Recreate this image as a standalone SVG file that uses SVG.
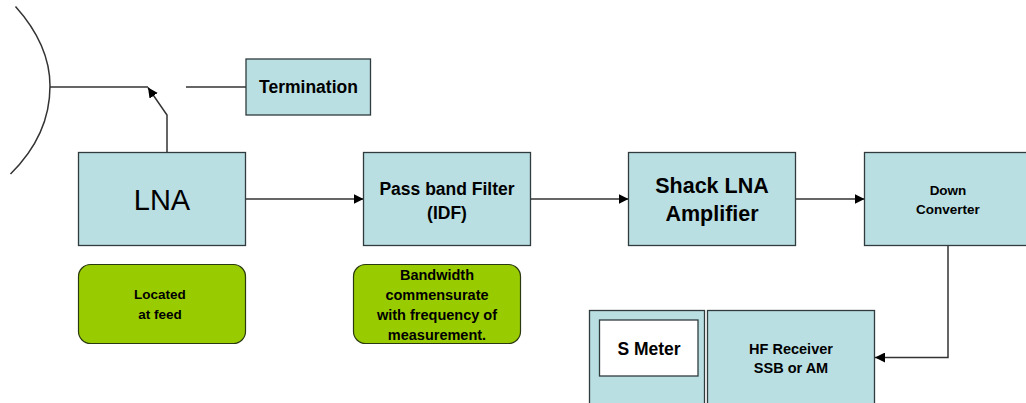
<svg xmlns="http://www.w3.org/2000/svg" width="1026" height="403" viewBox="0 0 1026 403">
<style>
.box{fill:#b9dfe3;stroke:#2f3b3d;stroke-width:1.3}
.note{fill:#99cc00;stroke:#2a3a10;stroke-width:1.2}
.white{fill:#fff;stroke:#2f3b3d;stroke-width:1.3}
.c{fill:none;stroke:#333;stroke-width:1.5}
text{font-family:"Liberation Sans",Arial,sans-serif;font-weight:bold;fill:#000;text-anchor:middle}
</style>
<defs>
<marker id="arrow" markerUnits="userSpaceOnUse" markerWidth="11" markerHeight="10" refX="10" refY="5" orient="auto">
<path d="M0 0L10 5L0 10Z" fill="#000"/>
</marker>
</defs>
<g id="connectors">
<path class="c" d="M15.500 6.500Q50 45 50 86Q50 135 10.500 174"/>
<path class="c" d="M50 87H148"/>
<path class="c" d="M186 87H246"/>
<path class="c" d="M167 152V115L148 87.500" marker-end="url(#arrow)"/>
<path class="c" d="M246 199H363.500" marker-end="url(#arrow)"/>
<path class="c" d="M531 199H628.500" marker-end="url(#arrow)"/>
<path class="c" d="M796 199H864.500" marker-end="url(#arrow)"/>
<path class="c" d="M948 245V357.500H875" marker-end="url(#arrow)"/>
</g>
<g id="termination"><rect class="box" x="246" y="59" width="124.500" height="56"/><text x="308.500" y="93" font-size="17.500">Termination</text></g>
<g id="lna"><rect class="box" x="78.500" y="152.500" width="167" height="93"/><text x="162" y="210" font-size="29" style="font-weight:normal">LNA</text></g>
<g id="filter"><rect class="box" x="363.500" y="152.500" width="167" height="93"/><text x="447" y="195" font-size="17.500">Pass band Filter</text><text x="447" y="219" font-size="17.500">(IDF)</text></g>
<g id="shack"><rect class="box" x="628.500" y="152.500" width="167" height="93"/><text x="712" y="193" font-size="21.500">Shack LNA</text><text x="712" y="221" font-size="21.500">Amplifier</text></g>
<g id="down"><rect class="box" x="864.500" y="152.500" width="167" height="93"/><text x="948" y="195" font-size="13.500">Down</text><text x="948" y="214" font-size="13.500">Converter</text></g>
<g id="located"><rect class="note" x="78.500" y="264.500" width="167" height="79" rx="12"/><text x="160" y="299" font-size="13.500">Located</text><text x="160" y="319" font-size="13.500">at feed</text></g>
<g id="bandwidth"><rect class="note" x="353.500" y="264.500" width="167" height="79" rx="12"/><text x="437" y="280" font-size="14.500">Bandwidth</text><text x="437" y="300" font-size="14.500">commensurate</text><text x="437" y="320" font-size="14.500">with frequency of</text><text x="437" y="340" font-size="14.500">measurement.</text></g>
<g id="meter"><rect class="box" x="589.500" y="310.500" width="115" height="110"/><rect class="white" x="599.500" y="320" width="98.500" height="56"/><text x="649" y="355" font-size="17.500">S Meter</text></g>
<g id="receiver"><rect class="box" x="707.500" y="310.500" width="167" height="110"/><text x="791" y="354" font-size="14.500">HF Receiver</text><text x="791" y="373" font-size="14.500">SSB or AM</text></g>
</svg>
